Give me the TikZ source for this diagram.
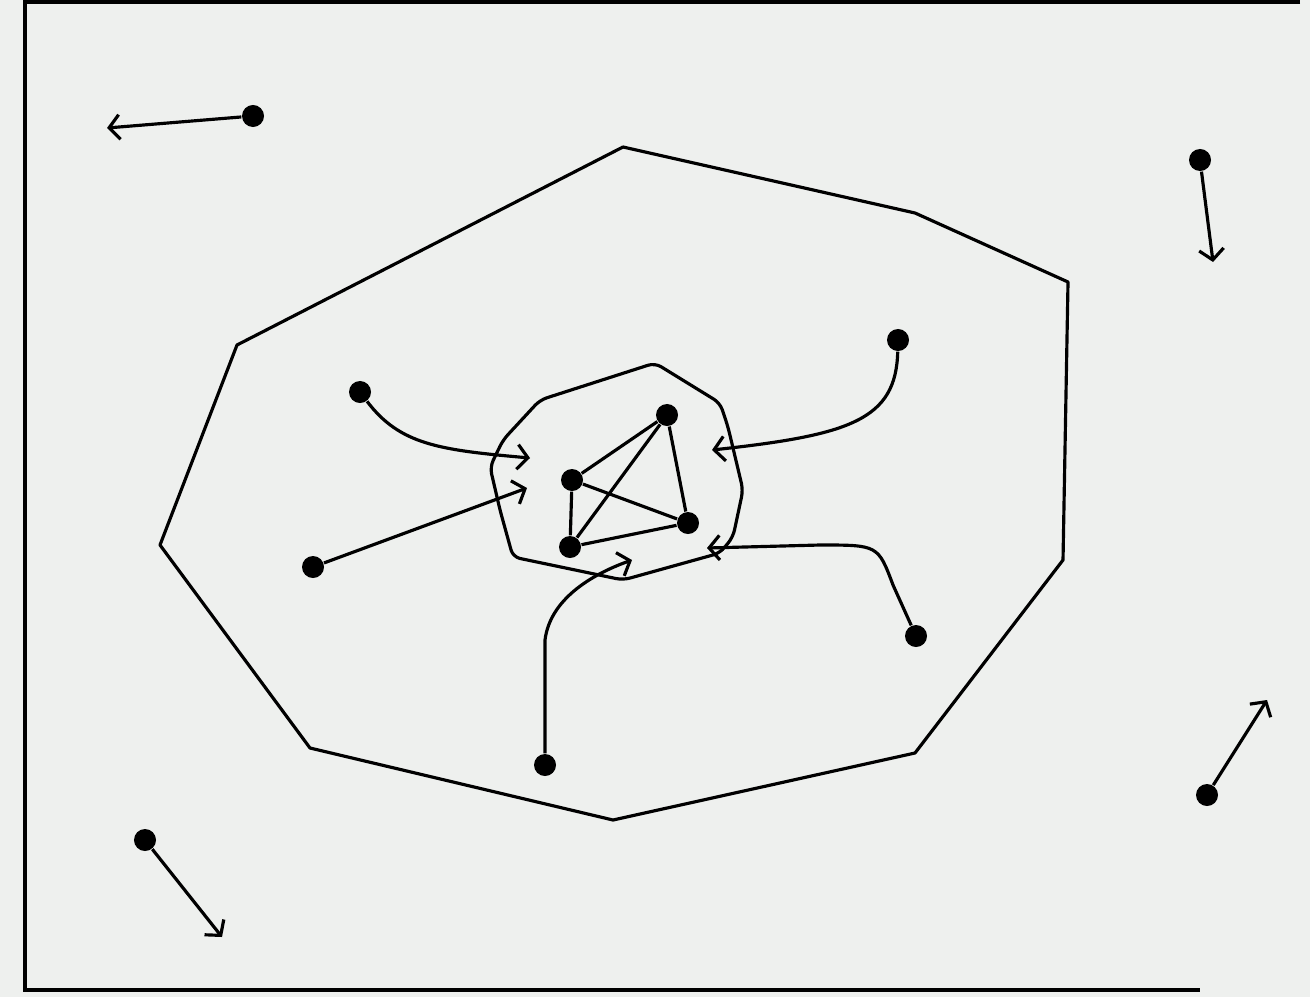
\documentclass[tikz,border=0pt]{standalone}
\usepackage{xcolor}
\usepackage{tikz}
\usetikzlibrary{arrows.meta,positioning}

\definecolor{paper}{HTML}{EEF0EE}

\begin{document}
\begin{tikzpicture}[x=0.01cm, y=-0.01cm,
    site/.style={circle, fill=black, inner sep=0pt, minimum size=0.22cm},
    hull/.style={draw=black, line width=0.9pt, line join=round},
    move/.style={draw=black, line width=0.9pt, -{Straight Barb[length=3pt, width=7pt]}},
    border/.style={draw=black, line width=1.3pt}
]

\fill[paper] (0,0) rectangle (1310,997);
\useasboundingbox (0,0) rectangle (1310,997);

% frame
\draw[border] (1300,2) -- (25,2) -- (25,990) -- (1200,990);

% outer hull
\draw[hull] (623,147) -- (915,213) -- (1068,282) -- (1063,560) -- (915,753) -- (613,820) -- (310,748) -- (160,545) -- (237,345) -- cycle;

% inner hull
\draw[hull, rounded corners=2pt] (540,400) -- (655,363) -- (720,403) -- (728,427) -- (743,490) -- (733,537) -- (720,553) -- (623,580) -- (513,557) -- (500,510) -- (490,467) -- (503,440) -- cycle;

% clique
\node[site] (top) at (667,415) {};
\node[site] (left) at (572,480) {};
\node[site] (low) at (570,547) {};
\node[site] (right) at (688,523) {};
\draw[hull] (top) -- (left) (top) -- (low) (top) -- (right) (left) -- (low) (left) -- (right) (low) -- (right);

% points inside the outer hull
\node[site] (e) at (360,392) {};
\node[site] (f) at (313,567) {};
\node[site] (g) at (898,340) {};
\node[site] (h) at (916,636) {};
\node[site] (i) at (545,765) {};
\coordinate (e') at (530,458);
\coordinate (f') at (527,488);
\coordinate (g') at (712,450);
\coordinate (h') at (707,548);
\coordinate (i') at (632,560);

\draw[move] (e) .. controls (400,445) and (440,450) .. (e');
\draw[move] (f) -- (f');
\draw[move] (g) .. controls (896,420) and (850,435) .. (g');
\draw[move] (h) -- (893,585) .. controls (878,545) .. (820,545) -- (h');
\draw[move] (i) -- (545,640) .. controls (550,600) and (590,575) .. (i');

% points outside
\node[site] (a) at (253,116) {};
\node[site] (b) at (1200,160) {};
\node[site] (c) at (1207,795) {};
\node[site] (d) at (145,840) {};
\coordinate (a') at (107,128);
\coordinate (b') at (1213,262);
\coordinate (c') at (1267,700);
\coordinate (d') at (222,937);

\draw[move] (a) -- (a');
\draw[move] (b) -- (b');
\draw[move] (c) -- (c');
\draw[move] (d) -- (d');

\end{tikzpicture}
\end{document}
